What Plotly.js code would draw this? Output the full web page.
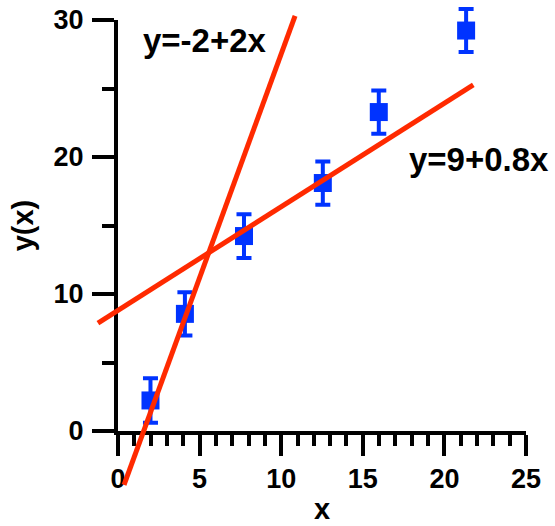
<!DOCTYPE html>
<html>
<head>
<meta charset="utf-8">
<script src="https://cdn.plot.ly/plotly-3.0.1.min.js"></script>
<style>html,body{margin:0;padding:0;background:#fff;}#chart{width:555px;height:526px;}</style>
</head>
<body>
<div id="chart"></div>
<script>
// ---- data ----
const dataX = [1.99, 4.1, 7.72, 12.55, 15.98, 21.33];
const dataY = [2.23, 8.55, 14.23, 18.1, 23.28, 29.23];
const dataErr = [1.62, 1.58, 1.6, 1.58, 1.58, 1.57];

const fitSteepX = [0.37, 10.85];
const fitSteepY = [-3.94, 30.3];
const fitShallowX = [-1.23, 21.77];
const fitShallowY = [7.88, 25.26];

const labelSteep = 'y=-2+2x';
const labelShallow = 'y=9+0.8x';
const xTitle = 'x';
const yTitle = 'y(x)';

// ---- layout ----
const W = 555, H = 526;
const plotLeft = 118, plotRight = 526, plotTop = 20, plotBottom = 431;
const xRange = [0, 25], yRange = [0, 30];

const xDomain = [plotLeft / W, plotRight / W];
const yDomain = [(H - plotBottom) / H, (H - plotTop) / H];
// full-page overlay axes with the same scale, so lines can run past the axes
const kx = (plotRight - plotLeft) / (xRange[1] - xRange[0]);
const ky = (plotBottom - plotTop) / (yRange[1] - yRange[0]);
const x2Range = [xRange[0] - plotLeft / kx, xRange[0] + (W - plotLeft) / kx];
const y2Range = [yRange[0] - (H - plotBottom) / ky, yRange[0] + plotBottom / ky];

const FONT = 'Liberation Sans, Arial, Helvetica, sans-serif';
const BLUE = '#0033ff';
const RED = '#ff2a00';

const traces = [
  {x: [], y: [], xaxis: 'x', yaxis: 'y', type: 'scatter', mode: 'markers', showlegend: false, hoverinfo: 'skip'},
  {
    x: dataX, y: dataY, xaxis: 'x2', yaxis: 'y2', type: 'scatter', mode: 'markers',
    marker: {symbol: 'square', size: 18, color: BLUE},
    error_y: {type: 'data', array: dataErr, visible: true, color: BLUE, thickness: 4, width: 7.5},
    showlegend: false, cliponaxis: false
  },
  {
    x: fitSteepX, y: fitSteepY, xaxis: 'x2', yaxis: 'y2', type: 'scatter', mode: 'lines',
    line: {color: RED, width: 5}, showlegend: false
  },
  {
    x: fitShallowX, y: fitShallowY, xaxis: 'x2', yaxis: 'y2', type: 'scatter', mode: 'lines',
    line: {color: RED, width: 5}, showlegend: false
  }
];

const tickFont = {family: FONT, size: 27, color: '#000', weight: 'bold'};
const titleFont = {family: FONT, size: 29, color: '#000', weight: 'bold'};
const noteFont = {family: FONT, size: 33, color: '#000', weight: 'bold'};

const layout = {
  width: W, height: H,
  margin: {l: 0, r: 0, t: 0, b: 0, pad: 0},
  paper_bgcolor: '#fff', plot_bgcolor: 'rgba(0,0,0,0)',
  showlegend: false,
  xaxis: {
    domain: xDomain, range: xRange, anchor: 'y', automargin: false,
    showline: true, linecolor: '#000', linewidth: 4,
    showgrid: false, zeroline: false,
    ticks: 'outside', ticklen: 21, tickwidth: 4, tickcolor: '#000',
    dtick: 5, tick0: 0, tickfont: tickFont,
    minor: {dtick: 1, ticks: 'outside', ticklen: 11, tickwidth: 4, tickcolor: '#000', showgrid: false},
    title: {text: xTitle, font: titleFont, standoff: 6}
  },
  yaxis: {
    domain: yDomain, range: yRange, anchor: 'x', automargin: false,
    showline: true, linecolor: '#000', linewidth: 4,
    showgrid: false, zeroline: false,
    ticks: 'outside', ticklen: 22, tickwidth: 4, tickcolor: '#000',
    dtick: 10, tick0: 0, tickfont: tickFont, ticklabelstandoff: 3,
    minor: {dtick: 5, ticks: 'outside', ticklen: 12, tickwidth: 4, tickcolor: '#000', showgrid: false},
    title: {text: yTitle, font: titleFont, standoff: 12}
  },
  xaxis2: {domain: [0, 1], range: x2Range, anchor: 'y2', visible: false, fixedrange: true},
  yaxis2: {domain: [0, 1], range: y2Range, anchor: 'x2', visible: false, fixedrange: true},
  annotations: [
    {xref: 'x', yref: 'y', x: 5.33, y: 28.5, text: labelSteep, showarrow: false,
     xanchor: 'center', yanchor: 'middle', font: noteFont},
    {xref: 'x', yref: 'y', x: 22.09, y: 19.8, text: labelShallow, showarrow: false,
     xanchor: 'center', yanchor: 'middle', font: noteFont}
  ]
};

Plotly.newPlot('chart', traces, layout, {displayModeBar: false, staticPlot: true});
</script>
</body>
</html>
